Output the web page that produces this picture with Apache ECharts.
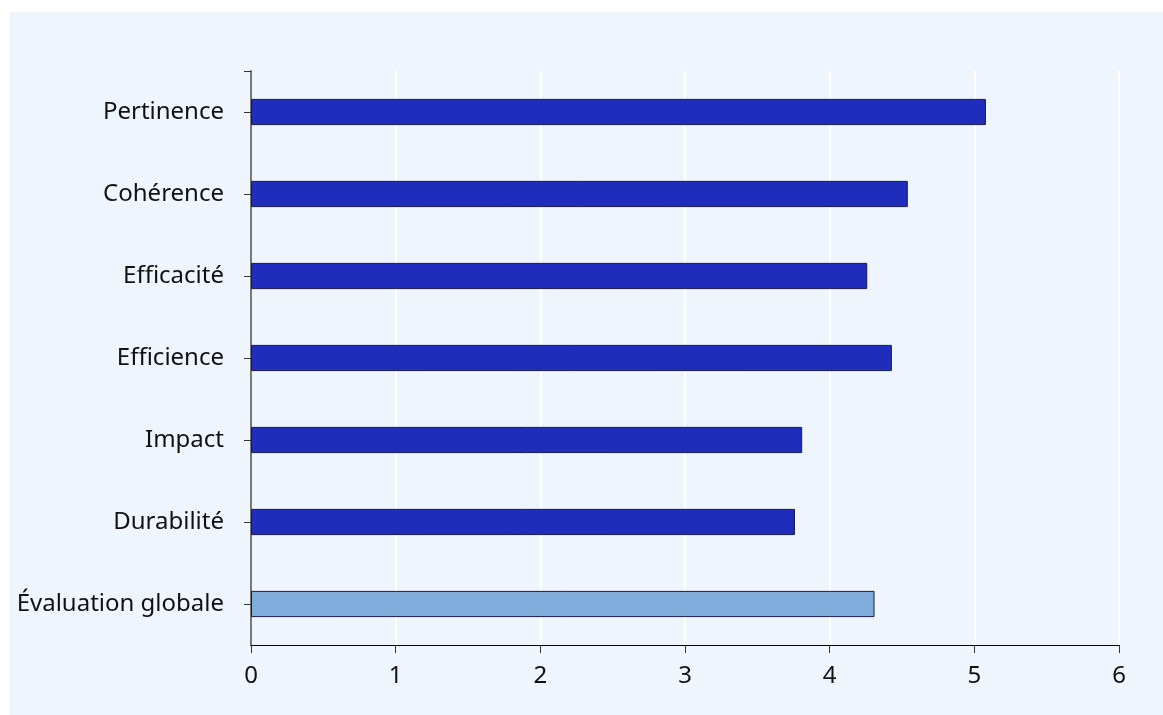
<!DOCTYPE html>
<html>
<head>
<meta charset="utf-8">
<script src="https://cdn.jsdelivr.net/npm/echarts@6/dist/echarts.min.js"></script>
<style>
html,body{margin:0;padding:0;background:#ffffff;}
#wrap{position:absolute;left:9px;top:12px;width:1154px;height:703px;background:#eef5fc;}
#chart{width:1154px;height:703px;}
</style>
</head>
<body>
<div id="wrap"><div id="chart"></div></div>
<script>
const categories = ["Pertinence","Cohérence","Efficacité","Efficience","Impact","Durabilité","Évaluation globale"];
const values = [5.08, 4.54, 4.26, 4.43, 3.81, 3.76, 4.31];
const highlightCategory = "Évaluation globale";
const xTicks = [0,1,2,3,4,5,6];

const chart = echarts.init(document.getElementById('chart'), null, {renderer:'canvas'});
const font = '"Noto Sans", "Open Sans", sans-serif';
chart.setOption({
  animation:false,
  backgroundColor:'transparent',
  textStyle:{fontFamily:font},
  grid:{left:242, right:44, top:59, bottom:70, containLabel:false},
  xAxis:{
    type:'value', min:xTicks[0], max:xTicks[xTicks.length-1], interval:1,
    axisLine:{show:true, lineStyle:{color:'#000', width:1.2}},
    axisTick:{show:true, length:8, lineStyle:{color:'#333', width:1}},
    axisLabel:{color:'#111', fontSize:24, margin:19, fontFamily:font},
    splitLine:{show:true, lineStyle:{color:'#ffffff', width:2}}
  },
  yAxis:[{
    type:'category', data:categories, inverse:true,
    axisLine:{show:true, lineStyle:{color:'#777', width:2}},
    axisTick:{show:true, alignWithLabel:true, length:7, lineStyle:{color:'#333'}},
    axisLabel:{color:'#111', fontSize:24, margin:27, fontFamily:font},
    splitLine:{show:false}
  },{
    type:'category', data:['bottom','top'], boundaryGap:false, position:'left',
    axisLine:{show:false},
    axisTick:{show:true, length:7, interval:function(i){return i===1;}, lineStyle:{color:'#333'}},
    axisLabel:{show:false},
    splitLine:{show:false}
  }],
  series:[{
    type:'bar', yAxisIndex:0,
    barWidth:'32%',
    data: values.map((v,i)=>({
      value:v,
      itemStyle:{color: categories[i]===highlightCategory ? '#80acdb' : '#1f2cbc', borderColor:'#1a1a40', borderWidth:1}
    }))
  }]
});
</script>
</body>
</html>
